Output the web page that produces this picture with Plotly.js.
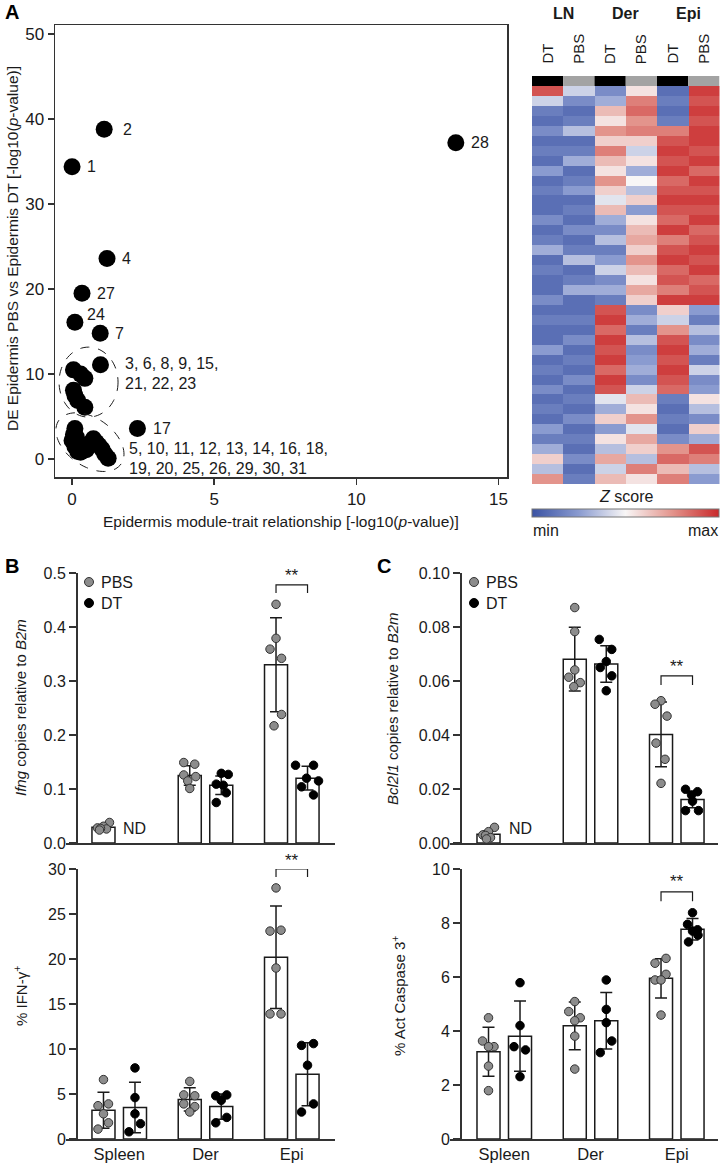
<!DOCTYPE html>
<html><head><meta charset="utf-8">
<script src="https://cdn.plot.ly/plotly-3.0.1.min.js"></script>
<style>body{margin:0;background:#fff}#chart{width:720px;height:1165px}</style>
</head><body><div id="chart"></div>
<script>
// ---------------- DATA ----------------
// Panel A scatter (module-trait relationship vs DE)
const labeledIds = ['1','2','4','7','17','24','27','28'];
const labeledX   = [0.0, 1.13, 1.23, 0.99, 2.3, 0.1, 0.35, 13.5];
const labeledY   = [34.4, 38.8, 23.6, 14.8, 3.6, 16.1, 19.5, 37.2];
const clusterAIds = ['3','6','8','9','15','21','22','23'];
const clusterAX   = [1.0, 0.05, 0.3, 0.45, 0.05, 0.1, 0.2, 0.45];
const clusterAY   = [11.1, 10.5, 10.0, 9.5, 8.1, 7.5, 6.9, 6.1];
const clusterBIds = ['5','10','11','12','13','14','16','18','19','20','25','26','29','30','31'];
const clusterBX   = [0.1, 0.05, 0.0, 0.1, 0.2, 0.3, 0.5, 0.75, 0.85, 0.95, 1.05, 1.15, 1.27, 0.15, 0.6];
const clusterBY   = [3.6, 2.9, 2.2, 1.5, 0.9, 0.8, 1.1, 2.4, 2.0, 1.6, 1.2, 0.6, 0.1, 2.6, 1.8];
const clusterALabel = ['3, 6, 8, 9, 15,', '21, 22, 23'];
const clusterBLabel = ['5, 10, 11, 12, 13, 14, 16, 18,', '19, 20, 25, 26, 29, 30, 31'];

// Heatmap (Z score, rows top -> bottom)
const heatGroups = ['LN','Der','Epi'];
const heatCols = ['DT','PBS','DT','PBS','DT','PBS'];
const lnDT  = [0.8,-0.2,-0.7,-0.8,-0.6,-0.8,-0.7,-0.8,-0.5,-0.8,-0.7,-0.8,-0.8,-0.6,-0.8,-0.7,-0.4,-0.8,-0.7,-0.8,-0.8,-0.6,-0.8,-0.7,-0.8,-0.8,-0.5,-0.8,-0.7,-0.8,-0.6,-0.8,-0.7,-0.8,-0.5,-0.7,-0.4,0.2,-0.3,0.5];
const lnPBS = [-0.2,-0.6,-0.8,-0.7,-0.3,-0.8,-0.7,-0.4,-0.8,-0.7,-0.5,-0.8,-0.7,-0.8,-0.6,-0.8,-0.7,-0.3,-0.8,-0.7,-0.4,-0.8,-0.8,-0.7,-0.8,-0.6,-0.8,-0.7,-0.8,-0.6,-0.8,-0.7,-0.8,-0.6,-0.8,-0.7,-0.8,-0.6,-0.8,-0.7];
const derDT = [-0.6,-0.4,0.3,0.1,0.5,0.2,0.6,0.3,0.1,0.5,0.2,-0.1,0.3,-0.4,-0.6,-0.3,-0.7,-0.5,-0.2,-0.6,-0.4,-0.7,0.8,0.9,0.7,0.9,0.8,0.9,0.7,0.9,0.8,-0.1,-0.4,0.2,-0.5,0.1,-0.3,0.4,-0.2,0.3];
const derPBS= [0.1,0.6,0.7,0.5,0.6,0.2,-0.2,0.1,-0.4,0.0,-0.3,0.2,-0.5,0.1,0.3,0.4,0.2,0.5,0.3,0.1,0.4,0.2,-0.6,-0.4,-0.7,-0.3,-0.6,-0.5,-0.4,-0.6,-0.2,0.3,0.1,0.5,-0.1,0.4,0.2,-0.3,0.6,0.1];
const epiDT = [-0.8,-0.7,-0.8,-0.7,0.6,0.8,0.9,0.8,0.9,0.7,0.8,0.9,0.8,0.7,0.9,0.6,0.8,0.9,0.7,0.8,0.6,0.9,0.2,-0.2,0.5,0.8,0.9,0.8,0.9,0.8,0.7,-0.7,-0.8,-0.7,-0.8,-0.6,0.5,0.7,0.3,0.6];
const epiPBS= [0.9,0.8,0.9,0.8,0.9,0.9,0.8,0.9,0.7,0.9,0.8,0.9,0.8,0.9,0.7,0.8,0.9,0.8,0.9,0.7,0.8,0.9,-0.5,-0.7,-0.3,-0.6,-0.4,-0.7,-0.2,-0.6,-0.5,0.1,-0.3,-0.6,0.2,-0.4,0.8,0.6,-0.3,-0.5];

// Panels B and C
const groups = ['Spleen','Der','Epi'];
// Ifng copies relative to B2m
const ifngPBSMean = [0.029, 0.125, 0.33];
const ifngPBSSd   = [0.004, 0.018, 0.087];
const ifngDTMean  = [null, 0.107, 0.12];
const ifngDTSd    = [null, 0.017, 0.022];
const ifngPBSPts  = [[0.038,0.031,0.028,0.026,0.027,0.024],[0.149,0.146,0.126,0.123,0.115,0.101],[0.442,0.379,0.359,0.342,0.238,0.217]];
const ifngDTPts   = [[],[0.129,0.127,0.109,0.107,0.093,0.075],[0.144,0.144,0.12,0.115,0.104,0.089]];
// % IFN-gamma+
const ifngPctPBSMean = [3.2, 4.4, 20.2];
const ifngPctPBSSd   = [2.0, 1.3, 5.7];
const ifngPctDTMean  = [3.5, 3.6, 7.2];
const ifngPctDTSd    = [2.8, 1.4, 3.5];
const ifngPctPBSPts  = [[6.6,3.7,3.9,2.8,1.8,1.1],[6.4,4.9,4.8,3.9,3.6,3.0],[27.9,23.1,23.2,19.0,13.9,13.9]];
const ifngPctDTPts   = [[7.9,4.6,2.8,1.7,0.8],[4.8,4.9,4.3,1.8,2.4],[10.4,10.6,8.2,3.9,3.0]];
// Bcl2l1 copies relative to B2m
const bclPBSMean = [0.0032, 0.0681, 0.0402];
const bclPBSSd   = [0.0012, 0.0118, 0.0120];
const bclDTMean  = [null, 0.0663, 0.0161];
const bclDTSd    = [null, 0.0068, 0.0030];
const bclPBSPts  = [[0.0058,0.0042,0.003,0.0028,0.002,0.0015],[0.0872,0.0783,0.0641,0.0614,0.0594,0.0579],[0.0527,0.0514,0.047,0.037,0.031,0.0221]];
const bclDTPts   = [[],[0.0754,0.0717,0.0672,0.065,0.0619,0.0564],[0.0199,0.019,0.0178,0.0155,0.012,0.012]];
// % Act Caspase 3+
const caspPBSMean = [3.23, 4.19, 5.95];
const caspPBSSd   = [0.91, 0.88, 0.73];
const caspDTMean  = [3.81, 4.38, 7.77];
const caspDTSd    = [1.30, 1.05, 0.40];
const caspPBSPts  = [[4.49,3.63,3.42,3.42,2.70,1.79],[5.09,4.72,4.49,4.38,3.81,2.59],[6.69,6.51,6.10,5.89,5.89,4.59]];
const caspDTPts   = [[5.79,4.2,3.42,3.3,2.31],[5.89,4.80,4.31,3.63,3.2],[8.38,7.95,7.7,7.55,7.3,7.75]];

// ---------------- LAYOUT CONSTANTS ----------------
const W = 720, H = 1165;
const fx = p => p / W;
const fy = p => 1 - p / H;
const FONT = 'Arial, "Liberation Sans", Helvetica, sans-serif';
const INK = '#1a1a1a';
const AX = '#333333';
const GREY = '#8c8c8c';
const OFF = 0.1826, BARW = 0.267, PXU = 86.25;
// jitter (pixels) of dots within each bar
const jitIfngPBS = [[6,0,-6,3,-3,-4],[-6,5,-6,6,-2,0],[0,0,-6,5.5,5.5,-2]];
const jitIfngDT  = [[],[0,7,-5,2,5,-5],[-12,6,-1,11,-6,6]];
const jitPctPBS  = [[0,-5.5,5,0,5,-5.5],[0,-6,5,-6,5,0],[0,-6,5,0,-6,5]];
const jitPctDT   = [[0,0,0,5.5,-6],[-5.5,5.5,0,-5.5,5.5],[-6,6,0,6,-6]];
const jitBclPBS  = [[6,0,-5.7,-3,2,-2],[0,0,0,-6,5.5,-1],[0,-6,6,-5,4,0]];
const jitBclDT   = [[],[-7,5.5,0,-6,5.5,0],[-7,5,-1,0,-7,6]];
const jitCaspPBS = [[0,-6,5.5,0,0,0],[0,-6,5.5,0,0,0],[5,-6,5,-6,0,0]];
const jitCaspDT  = [[0,0,-6,5.5,0],[0,0,0,5.5,-6],[0,-5,0,5.5,-4,5]];

const traces = [];
const shapes = [];
const annotations = [];
function note(o){
  annotations.push(Object.assign({showarrow:false, xanchor:'center', yanchor:'middle'}, o));
}

// ---------- Panel A scatter ----------
const allX = labeledX.concat(clusterAX, clusterBX);
const allY = labeledY.concat(clusterAY, clusterBY);
traces.push({type:'scatter', mode:'markers', x: allX, y: allY, xaxis:'x', yaxis:'y',
  marker:{color:'#000', size:17, line:{width:0}}, hoverinfo:'skip', cliponaxis:false});
const lblShift = {'1':[13,0],'2':[17,0],'4':[13,0],'7':[13,0],'17':[14,0],'24':[10,8],'27':[13,0],'28':[13,0]};
labeledIds.forEach((id,i)=>{
  note({xref:'x', yref:'y', x: labeledX[i], y: labeledY[i], text:id,
    xanchor:'left', xshift: lblShift[id][0], yshift: lblShift[id][1],
    font:{family:FONT, size:16, color:INK}});
});
const SX = 452/15.9, SY = 452/53.16;
function ellipsePath(cx, cy, a, b, rotDeg){
  let d=''; const r = rotDeg*Math.PI/180;
  for(let k=0;k<=80;k++){
    const t = 2*Math.PI*k/80;
    const ex=a*Math.cos(t), ey=b*Math.sin(t);
    const rx=ex*Math.cos(r)-ey*Math.sin(r), ry=ex*Math.sin(r)+ey*Math.cos(r);
    d += (k?'L':'M') + (cx+rx/SX).toFixed(4) + ',' + (cy-ry/SY).toFixed(4);
  }
  return d+'Z';
}
shapes.push({type:'path', xref:'x', yref:'y', path: ellipsePath(0.58, 9.06, 29.5, 35, 0), line:{color:INK, width:1, dash:'dash'}});
shapes.push({type:'path', xref:'x', yref:'y', path: ellipsePath(0.63, 2.0, 38, 24, 35), line:{color:INK, width:1, dash:'dash'}});
note({xref:'paper', yref:'paper', x: fx(123), y: fy(363), text: clusterALabel[0], xanchor:'left', font:{family:FONT,size:16,color:INK}});
note({xref:'paper', yref:'paper', x: fx(123), y: fy(383), text: clusterALabel[1], xanchor:'left', font:{family:FONT,size:16,color:INK}});
note({xref:'paper', yref:'paper', x: fx(127), y: fy(448), text: clusterBLabel[0], xanchor:'left', font:{family:FONT,size:16,color:INK}});
note({xref:'paper', yref:'paper', x: fx(127), y: fy(468), text: clusterBLabel[1], xanchor:'left', font:{family:FONT,size:16,color:INK}});
note({xref:'paper', yref:'paper', x: fx(12), y: fy(249), text:'DE Epidermis PBS vs Epidermis DT [-log10(<i>p</i>-value)]', textangle:-90, font:{family:FONT,size:15.5,color:INK}});
note({xref:'paper', yref:'paper', x: fx(281), y: fy(521), text:'Epidermis module-trait relationship [-log10(<i>p</i>-value)]', font:{family:FONT,size:15.5,color:INK}});

// ---------- Heatmap ----------
const heatZ = lnDT.map((v,i)=>[lnDT[i], lnPBS[i], derDT[i], derPBS[i], epiDT[i], epiPBS[i]]);
traces.push({type:'heatmap', z: heatZ, x:[0,1,2,3,4,5], y: heatZ.map((r,i)=>i), xaxis:'x2', yaxis:'y2',
  zmin:-1, zmax:1, zsmooth:false, hoverinfo:'skip',
  colorscale:[[0,'#3a52a3'],[0.25,'#8a9bd0'],[0.5,'#f8f6f6'],[0.75,'#e3948c'],[1,'#c9292b']],
  colorbar:{orientation:'h', x: fx(625.7), xanchor:'center', y: fy(518), yanchor:'bottom', len: 187/W, lenmode:'fraction',
    thickness:8, thicknessmode:'pixels', outlinewidth:1, outlinecolor:'#777', showticklabels:false, ticks:'', xpad:0, ypad:0}
});
heatCols.forEach((c,i)=>{
  shapes.push({type:'rect', xref:'x2', yref:'paper', x0:i-0.5, x1:i+0.5, y0: fy(86), y1: fy(76), fillcolor: c==='DT'?'#000':'#a3a3a3', line:{width:0}});
  note({xref:'x2', yref:'paper', x:i, y: fy(66), text:c, textangle:-90, yanchor:'bottom', font:{family:FONT,size:15,color:INK}});
});
heatGroups.forEach((g,i)=>{
  note({xref:'x2', yref:'paper', x: 2*i+0.5, y: fy(14), text:'<b>'+g+'</b>', font:{family:FONT,size:16,color:INK}});
});
note({xref:'paper', yref:'paper', x: fx(626), y: fy(496), text:'<i>Z</i> score', font:{family:FONT,size:16,color:INK}});
note({xref:'paper', yref:'paper', x: fx(531), y: fy(531), text:'min', xanchor:'left', font:{family:FONT,size:16,color:INK}});
note({xref:'paper', yref:'paper', x: fx(720), y: fy(531), text:'max', xanchor:'right', font:{family:FONT,size:16,color:INK}});

// ---------- Bar panels ----------
function barPanel(xa, ya, pbsMean, pbsSd, dtMean, dtSd, pbsPts, dtPts, jitP, jitD){
  const errStyle = {type:'data', visible:true, color:INK, thickness:1.5, width:6};
  traces.push({type:'bar', x: groups.map((g,i)=>i-OFF), y: pbsMean, width: BARW, xaxis:xa, yaxis:ya,
    marker:{color:'#fff', line:{color:INK, width:1.5}}, error_y: Object.assign({array: pbsSd}, errStyle), hoverinfo:'skip'});
  traces.push({type:'bar', x: groups.map((g,i)=>i+OFF), y: dtMean, width: BARW, xaxis:xa, yaxis:ya,
    marker:{color:'#fff', line:{color:INK, width:1.5}}, error_y: Object.assign({array: dtSd}, errStyle), hoverinfo:'skip'});
  const px=[],py=[],dx=[],dy=[];
  pbsPts.forEach((arr,g)=>arr.forEach((v,k)=>{px.push(g-OFF+jitP[g][k]/PXU); py.push(v);}));
  dtPts.forEach((arr,g)=>arr.forEach((v,k)=>{dx.push(g+OFF+jitD[g][k]/PXU); dy.push(v);}));
  traces.push({type:'scatter', mode:'markers', x:px, y:py, xaxis:xa, yaxis:ya, cliponaxis:false,
    marker:{color:GREY, size:8.5, line:{color:'#333', width:1}}, hoverinfo:'skip'});
  traces.push({type:'scatter', mode:'markers', x:dx, y:dy, xaxis:xa, yaxis:ya, cliponaxis:false,
    marker:{color:'#000', size:8.5, line:{color:'#000', width:1}}, hoverinfo:'skip'});
}
barPanel('x3','y3', ifngPBSMean, ifngPBSSd, ifngDTMean, ifngDTSd, ifngPBSPts, ifngDTPts, jitIfngPBS, jitIfngDT);
barPanel('x4','y4', ifngPctPBSMean, ifngPctPBSSd, ifngPctDTMean, ifngPctDTSd, ifngPctPBSPts, ifngPctDTPts, jitPctPBS, jitPctDT);
barPanel('x5','y5', bclPBSMean, bclPBSSd, bclDTMean, bclDTSd, bclPBSPts, bclDTPts, jitBclPBS, jitBclDT);
barPanel('x6','y6', caspPBSMean, caspPBSSd, caspDTMean, caspDTSd, caspPBSPts, caspDTPts, jitCaspPBS, jitCaspDT);

// significance brackets (stars placed in page pixels)
function bracket(xa, ya, yTop, yLeg, starPx){
  shapes.push({type:'path', xref:xa, yref:ya, path:`M${2-OFF},${yLeg}L${2-OFF},${yTop}L${2+OFF},${yTop}L${2+OFF},${yLeg}`, line:{color:INK,width:1.2}});
  note({xref:xa, yref:'paper', x:2, y:fy(starPx), text:'**', font:{family:FONT,size:17,color:INK}});
}
bracket('x3','y3', 0.478, 0.463, 575);
bracket('x4','y4', 30.0, 29.1, 860);
bracket('x5','y5', 0.0619, 0.0585, 666);
bracket('x6','y6', 9.15, 8.81, 881);

// ND labels
note({xref:'x3', yref:'y3', x: OFF, y: 0.026, text:'ND', font:{family:FONT,size:16,color:INK}});
note({xref:'x5', yref:'y5', x: OFF, y: 0.0052, text:'ND', font:{family:FONT,size:16,color:INK}});

// Legends
[89, 474].forEach(lx=>{
  shapes.push({type:'circle', xref:'paper', yref:'paper', x0:fx(lx-4.5), x1:fx(lx+4.5), y0:fy(582+4.5), y1:fy(582-4.5), fillcolor:GREY, line:{color:'#333',width:1}});
  shapes.push({type:'circle', xref:'paper', yref:'paper', x0:fx(lx-4.5), x1:fx(lx+4.5), y0:fy(603+4.5), y1:fy(603-4.5), fillcolor:'#000', line:{color:'#000',width:1}});
  note({xref:'paper', yref:'paper', x:fx(lx+10), y:fy(582), text:'PBS', xanchor:'left', font:{family:FONT,size:16,color:INK}});
  note({xref:'paper', yref:'paper', x:fx(lx+10), y:fy(603), text:'DT', xanchor:'left', font:{family:FONT,size:16,color:INK}});
});

// y titles for B / C
note({xref:'paper', yref:'paper', x:fx(20), y:fy(708), text:'<i>Ifng</i> copies relative to <i>B2m</i>', textangle:-90, font:{family:FONT,size:15,color:INK}});
note({xref:'paper', yref:'paper', x:fx(20), y:fy(996), text:'% IFN-γ<sup>+</sup>', textangle:-90, font:{family:FONT,size:15,color:INK}});
note({xref:'paper', yref:'paper', x:fx(392), y:fy(708), text:'<i>Bcl2l1</i> copies relative to <i>B2m</i>', textangle:-90, font:{family:FONT,size:15,color:INK}});
note({xref:'paper', yref:'paper', x:fx(398), y:fy(996), text:'% Act Caspase 3<sup>+</sup>', textangle:-90, font:{family:FONT,size:15,color:INK}});

// panel letters
[['A',3,12],['B',3,566],['C',375,566]].forEach(([t,x,y])=>{
  note({xref:'paper', yref:'paper', x:fx(x), y:fy(y), text:'<b>'+t+'</b>', xanchor:'left', font:{family:FONT,size:20,color:'#000'}});
});

// ---------- Axes ----------
const tickFont = {family:FONT, size:16, color:INK};
function yBar(domTop, domBot, range, vals, txt, pos){
  return {domain:[fy(domBot), fy(domTop)], range:range, anchor:'free', position:fx(pos), showline:true, linecolor:AX, linewidth:1.5,
    ticks:'outside', ticklen:7, tickwidth:1.5, tickcolor:AX, tickvals:vals, ticktext:txt, tickfont:tickFont,
    showgrid:false, zeroline:false, fixedrange:true};
}
function xBar(l, r, range, yref, labels){
  return {domain:[fx(l), fx(r)], range:range, anchor:yref, showline:true, linecolor:AX, linewidth:1.5,
    ticks:'', showticklabels:!!labels, tickvals:[0,1,2], ticktext:groups, tickfont:{family:FONT,size:16.5,color:INK},
    showgrid:false, zeroline:false, fixedrange:true};
}
const layout = {
  width:W, height:H, margin:{l:0,r:0,t:0,b:0}, paper_bgcolor:'#fff', plot_bgcolor:'rgba(0,0,0,0)',
  showlegend:false, barmode:'overlay', font:{family:FONT, color:INK},
  xaxis:{domain:[fx(55), fx(507)], range:[-0.6, 15.3], anchor:'y', showline:true, mirror:true, linecolor:AX, linewidth:1.5,
    ticks:'outside', ticklen:6, tickwidth:1.5, tickcolor:AX, tickvals:[0,5,10,15], tickfont:{family:FONT,size:17,color:INK},
    showgrid:false, zeroline:false},
  yaxis:{domain:[fy(477), fy(25)], range:[-2.1, 51.06], anchor:'x', showline:true, mirror:true, linecolor:AX, linewidth:1.5,
    ticks:'outside', ticklen:6, tickwidth:1.5, tickcolor:AX, tickvals:[0,10,20,30,40,50], tickfont:{family:FONT,size:17,color:INK},
    showgrid:false, zeroline:false},
  xaxis2:{domain:[fx(532), fx(719.5)], range:[-0.5,5.5], anchor:'y2', showticklabels:false, ticks:'', showgrid:false, zeroline:false, showline:false},
  yaxis2:{domain:[fy(484), fy(86)], autorange:'reversed', anchor:'x2', showticklabels:false, ticks:'', showgrid:false, zeroline:false, showline:false},
  xaxis3: xBar(66, 335, [-0.617, 2.501], 'y3', false),
  yaxis3: yBar(573, 843, [0, 0.5], [0,0.1,0.2,0.3,0.4,0.5], ['0.0','0.1','0.2','0.3','0.4','0.5'], 76),
  xaxis4: xBar(66, 335, [-0.617, 2.501], 'y4', true),
  yaxis4: yBar(869, 1139, [0, 30], [0,5,10,15,20,25,30], ['0','5','10','15','20','25','30'], 76),
  xaxis5: xBar(450, 718, [-0.629, 2.478], 'y5', false),
  yaxis5: yBar(573, 843, [0, 0.1], [0,0.02,0.04,0.06,0.08,0.1], ['0.00','0.02','0.04','0.06','0.08','0.10'], 460),
  xaxis6: xBar(450, 718, [-0.629, 2.478], 'y6', true),
  yaxis6: yBar(869, 1139, [0, 10], [0,2,4,6,8,10], ['0','2','4','6','8','10'], 460),
  shapes: shapes, annotations: annotations
};
Plotly.newPlot('chart', traces, layout, {staticPlot:true, displayModeBar:false});
</script></body></html>
